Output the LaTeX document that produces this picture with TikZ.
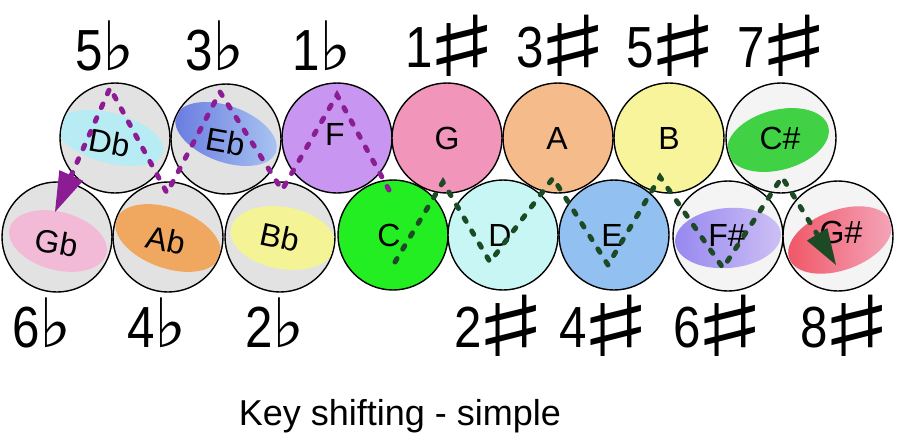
\documentclass[tikz,border=0pt]{standalone}
\usepackage{fontspec}
\usepackage{graphicx}
\setmainfont{Liberation Sans}
\newfontfamily\narrowfont[FakeStretch=0.85]{Liberation Sans}
\newfontfamily\symfont{DejaVu Sans}
\usetikzlibrary{arrows.meta,calc}
\definecolor{cgray}{HTML}{E2E2E2}
\definecolor{cwhite}{HTML}{F4F4F4}
\definecolor{cF}{HTML}{C896F0}
\definecolor{cG}{HTML}{F295BB}
\definecolor{cA}{HTML}{F6BB8A}
\definecolor{cB}{HTML}{F8F49C}
\definecolor{cC}{HTML}{22EE22}
\definecolor{cD}{HTML}{C8F6F4}
\definecolor{cE}{HTML}{92C0F0}
\definecolor{pdash}{HTML}{8C1C94}
\definecolor{gdash}{HTML}{1C4A24}
\tikzset{
  key/.style={circle,draw=black,line width=1.4pt,minimum size=110pt,inner sep=0pt},
  note/.style={font=\fontsize{32}{34}\selectfont,inner sep=0pt},
  sig/.style={font=\narrowfont\fontsize{58}{60}\selectfont,anchor=base,inner sep=0pt},
  title/.style={font=\fontsize{36}{40}\selectfont,anchor=base,inner sep=0pt},
  pline/.style={draw=pdash,line width=5pt,line cap=round,dash pattern=on 4pt off 11pt},
  gline/.style={draw=gdash,line width=5pt,line cap=round,dash pattern=on 4pt off 11pt},
}
\newcommand{\flt}{{\symfont\fontsize{68}{68}\selectfont\kern-1pt\char"266D}}
\newcommand{\shp}{{\symfont\fontsize{84}{84}\selectfont\kern-9pt\raisebox{-9pt}{\scalebox{1.9}[1]{\char"266F}}}}
\begin{document}
\begin{tikzpicture}[x=1pt,y=-1pt]
\useasboundingbox (0,0) rectangle (898,440);
\fill[white] (0,0) rectangle (898,440);
% top row
\node[key,fill=cgray]  (Db) at (115,138) {};
\node[key,fill=cgray]  (Eb) at (226,139) {};
\node[key,fill=cF]     (F)  at (337,138) {};
\node[key,fill=cG]     (G)  at (447,138) {};
\node[key,fill=cA]     (A)  at (558,138) {};
\node[key,fill=cB]     (B)  at (669,138) {};
\node[key,fill=cwhite] (Cs) at (781,138) {};
\begin{scope}
  \clip (115,138) circle [radius=54];
  \fill[color={rgb,255:red,184;green,236;blue,244},shift={(110,138)},rotate=-15] (0,0) ellipse [x radius=55, y radius=25];
\end{scope}
\begin{scope}
  \clip (226,139) circle [radius=54];
  \shade[left color={rgb,255:red,104;green,122;blue,224},right color={rgb,255:red,170;green,198;blue,242},shift={(226,134)},rotate=-20] (0,0) ellipse [x radius=53, y radius=28];
\end{scope}
\begin{scope}
  \clip (781,138) circle [radius=54];
  \fill[color={rgb,255:red,64;green,210;blue,68},shift={(778,140)},rotate=15] (0,0) ellipse [x radius=52, y radius=30];
\end{scope}
% bottom row
\node[key,fill=cgray]  (Gb) at (57,237) {};
\node[key,fill=cgray]  (Ab) at (168,237) {};
\node[key,fill=cgray]  (Bb) at (280,237) {};
\node[key,fill=cC]     (C)  at (393,235) {};
\node[key,fill=cD]     (D)  at (503,235) {};
\node[key,fill=cE]     (E)  at (614,235) {};
\node[key,fill=cwhite] (Fs) at (728,236) {};
\node[key,fill=cwhite] (Gs) at (838,236) {};
\begin{scope}
  \clip (57,237) circle [radius=54];
  \fill[color={rgb,255:red,242;green,186;blue,214},shift={(58,241)},rotate=-15] (0,0) ellipse [x radius=50, y radius=29];
\end{scope}
\begin{scope}
  \clip (168,237) circle [radius=54];
  \fill[color={rgb,255:red,240;green,168;blue,96},shift={(168,238)},rotate=-20] (0,0) ellipse [x radius=55, y radius=30];
\end{scope}
\begin{scope}
  \clip (280,237) circle [radius=54];
  \fill[color={rgb,255:red,244;green,244;blue,150},shift={(283,238)},rotate=-10] (0,0) ellipse [x radius=53, y radius=31];
\end{scope}
\begin{scope}
  \clip (728,236) circle [radius=54];
  \shade[left color={rgb,255:red,150;green,136;blue,240},right color={rgb,255:red,206;green,192;blue,244},shift={(728,238)},rotate=5] (0,0) ellipse [x radius=53, y radius=30];
\end{scope}
\begin{scope}
  \clip (838,236) circle [radius=54];
  \shade[left color={rgb,255:red,240;green,84;blue,100},right color={rgb,255:red,244;green,168;blue,188},shift={(840,240)},rotate=20] (0,0) ellipse [x radius=54, y radius=30];
\end{scope}
% note names
\node[note,rotate=-10] (lDb) at (110,143) {Db};
\node[note,rotate=-10] (lEb) at (226,142) {Eb};
\node[note] (lF)  at (335,134) {F};
\node[note] (lG)  at (447,138) {G};
\node[note] (lA)  at (557,138) {A};
\node[note] (lB)  at (669,138) {B};
\node[note] (lCs) at (780,138) {C\#};
\node[note,rotate=-10] (lGb) at (57,243) {Gb};
\node[note,rotate=-12] (lAb) at (166,240) {Ab};
\node[note,rotate=-12] (lBb) at (280,237) {Bb};
\node[note] (lC)  at (389,235) {C};
\node[note] (lD)  at (500,235) {D};
\node[note] (lE)  at (612,235) {E};
\node[note] (lFs) at (727,235) {F\#};
\node[note] (lGs) at (841,232) {G\#};
% purple path
\coordinate (p0) at (389,190);
\coordinate (p1) at (337,95);
\coordinate (p2) at (282,190);
\coordinate (p3) at (220,92);
\coordinate (p4) at (167,193);
\coordinate (p5) at (110,88);
\coordinate (p6) at (55,212);
\draw[pline] (p0) -- (p1) -- (p2) -- (p3) -- (p4) -- (p5) -- ($(p6)!30pt!(p5)$);
\fill[pdash] (p6) -- ($(p6)!40pt!(p5)!13pt!90:(p5)$) -- ($(p6)!40pt!(p5)!13pt!-90:(p5)$) -- cycle;
% green path
\coordinate (g0) at (395,262);
\coordinate (g1) at (443,182);
\coordinate (g2) at (490,262);
\coordinate (g3) at (553,178);
\coordinate (g4) at (608,265);
\coordinate (g5) at (660,177);
\coordinate (g6) at (723,268);
\coordinate (g7) at (782,177);
\coordinate (g8) at (836,265);
\draw[gline] (g0) -- (g1) -- (g2) -- (g3) -- (g4) -- (g5) -- (g6) -- (g7) -- ($(g8)!28pt!(g7)$);
\fill[gdash] (g8) -- ($(g8)!36pt!(g7)!12pt!90:(g7)$) -- ($(g8)!36pt!(g7)!12pt!-90:(g7)$) -- cycle;
% labels
\node[sig] (t5) at (105,70) {5\flt};
\node[sig] (t3) at (215,70) {3\flt};
\node[sig] (t1) at (322,70) {1\flt};
\node[sig] (s1) at (453,67) {1\shp};
\node[sig] (s3) at (564,67) {3\shp};
\node[sig] (s5) at (674,67) {5\shp};
\node[sig] (s7) at (785,67) {7\shp};
\node[sig] (b6) at (42,347) {6\flt};
\node[sig] (b4) at (157,347) {4\flt};
\node[sig] (b2) at (275,347) {2\flt};
\node[sig] (d2) at (502,347) {2\shp};
\node[sig] (d4) at (607,347) {4\shp};
\node[sig] (d6) at (721,347) {6\shp};
\node[sig] (d8) at (848,347) {8\shp};
\node[title] (ttl) at (400,425) {Key shifting - simple};
\end{tikzpicture}
\end{document}
